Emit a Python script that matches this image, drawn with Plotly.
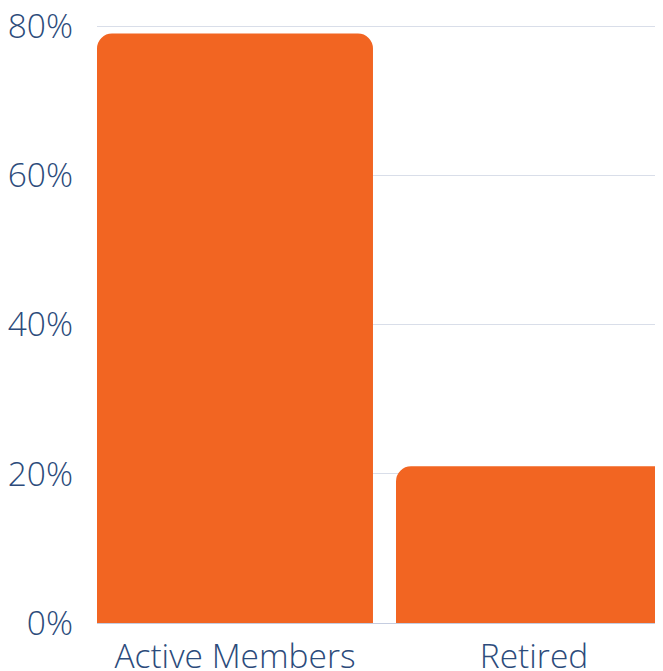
import plotly.graph_objects as go

categories = ["Active Members", "Retired"]
values = [79, 21]
y_ticks = [0, 20, 40, 60, 80]
y_tick_labels = ["0%", "20%", "40%", "60%", "80%"]

text_color = "#2c4b7b"
bar_color = "#f26522"

fig = go.Figure(go.Bar(x=categories, y=values, marker=dict(color=bar_color, line=dict(width=0))))

fig.update_layout(
    width=663, height=663,
    margin=dict(l=89, r=0, t=17, b=48, autoexpand=False),
    paper_bgcolor="white", plot_bgcolor="white",
    bargap=0.077,
    barcornerradius=15,
    showlegend=False,
    font=dict(family="Open Sans", size=33.5, color=text_color, weight=300),
)
fig.update_xaxes(
    range=[-0.4615, 1.4582],
    showgrid=False, showline=True, linecolor="#c5cde0", linewidth=1,
    ticks="", ticklabelstandoff=4, automargin=False, ticklabeloverflow="allow",
    tickfont=dict(family="Open Sans", size=33.5, color=text_color, weight=300),
)
fig.update_yaxes(
    range=[0, 80.15],
    tickvals=y_ticks, ticktext=y_tick_labels,
    showgrid=True, gridcolor="#d9dee9", gridwidth=1,
    zeroline=False, showline=False, ticks="", automargin=False,
    ticklabelstandoff=23, ticklabeloverflow="allow",
    tickfont=dict(family="Open Sans", size=33.5, color=text_color, weight=300),
)

fig.write_html("out.html", post_script="document.body.style.overflow='hidden';")
